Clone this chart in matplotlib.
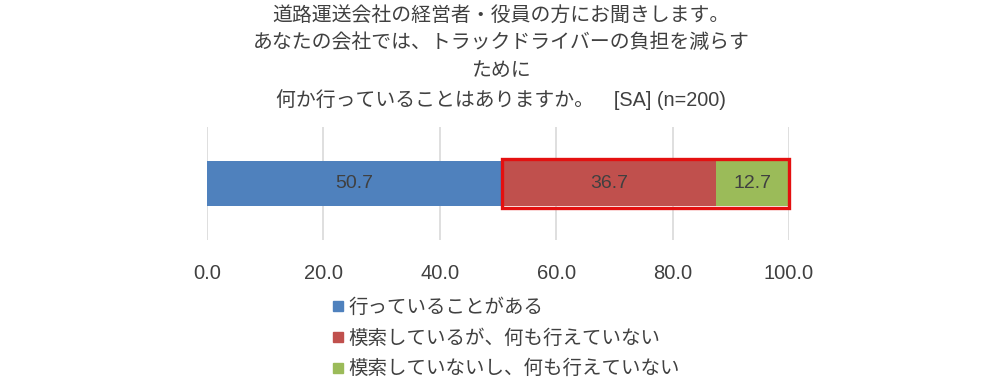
import matplotlib
matplotlib.use("Agg")
import matplotlib.pyplot as plt
from matplotlib.patches import Rectangle
from matplotlib.lines import Line2D

plt.rcParams['font.family'] = ['Liberation Sans', 'Noto Sans CJK JP', 'DejaVu Sans']

title_lines = ["道路運送会社の経営者・役員の方にお聞きします。",
               "あなたの会社では、トラックドライバーの負担を減らす",
               "ために",
               "何か行っていることはありますか。　[SA] (n=200)"]
categories = ["行っていることがある",
              "模索しているが、何も行えていない",
              "模索していないし、何も行えていない"]
values = [50.7, 36.7, 12.7]
colors = ["#4f81bd", "#c0504d", "#9bbb59"]
xticks = [0, 20, 40, 60, 80, 100]

fig = plt.figure(figsize=(10.08, 3.86), dpi=100)
ax = fig.add_axes([207/1008, 1-240/386, (789-207)/1008, 113/386])

left = 0
for v, c in zip(values, colors):
    ax.barh(0, v, left=left, height=0.4, color=c, zorder=2)
    ax.text(left + v/2, 0, f"{v:.1f}", ha='center', va='center',
            fontsize=14, color='#404040', zorder=4)
    left += v

# red highlight box around the latter two segments
hl_left = values[0]
hl_width = values[1] + values[2]
ax.add_patch(Rectangle((hl_left, -0.22), min(hl_width, 100 - hl_left), 0.44,
                       fill=False, edgecolor='#e41010', linewidth=2.4,
                       zorder=5, clip_on=False))

ax.set_xlim(0, 100)
ax.set_ylim(-0.5, 0.5)
ax.set_xticks(xticks)
ax.set_xticklabels([f"{t:.1f}" for t in xticks], fontsize=14.5, color='#404040')
ax.set_yticks([])
ax.grid(axis='x', color='#d9d9d9', linewidth=1.2, zorder=0)
for s in ax.spines.values():
    s.set_visible(False)
ax.tick_params(axis='x', length=0, pad=17)

fig.text(0.497, 0.985, "\n".join(title_lines), ha='center', va='top',
         fontsize=14.3, color='#404040', linespacing=1.55)

handles = [Line2D([], [], marker='s', linestyle='none', markersize=6.5,
                  markerfacecolor=c, markeredgecolor=c) for c in colors]
fig.legend(handles, categories, loc='upper left',
           bbox_to_anchor=(322/1008, 1-289/386), frameon=False,
           fontsize=14, labelcolor='#404040', handlelength=0.6,
           handletextpad=0.25, labelspacing=0.62, borderpad=0)

fig.savefig("out.png", dpi=100)
